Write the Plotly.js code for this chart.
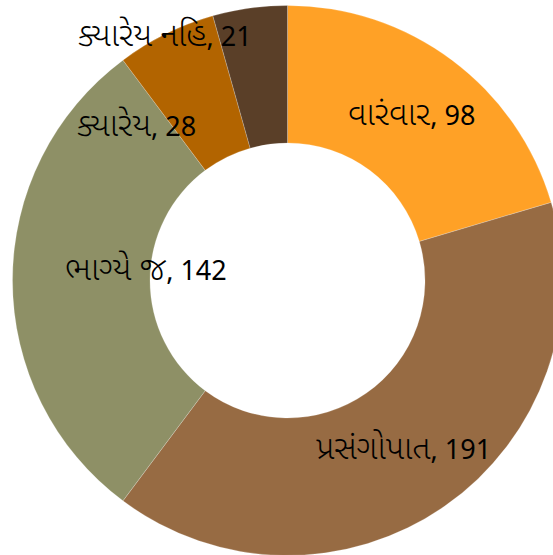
<!DOCTYPE html>
<html>
<head>
<meta charset="utf-8">
<script src="https://cdn.plot.ly/plotly-3.0.1.min.js"></script>
<style>
html,body{margin:0;padding:0;overflow:hidden;background:#fff;width:553px;height:555px;}
#chart{width:575px;height:561px;}
</style>
</head>
<body>
<div id="chart"></div>
<script>
const categories = ["વારંવાર", "પ્રસંગોપાત", "ભાગ્યે જ", "ક્યારેય", "ક્યારેય નહિ"];
const values = [98, 191, 142, 28, 21];
const colors = ["#FFA126", "#976B43", "#8E9066", "#B26400", "#5A3F28"];
// label anchor positions (pixels in the 575x561 plot div)
const labelPx = [[411, 112], [403, 446], [146, 267], [136, 123], [165, 34]];

const W = 575, H = 561;
const trace = {
  type: "pie",
  labels: categories,
  values: values,
  hole: 0.5,
  sort: false,
  direction: "clockwise",
  rotation: 0,
  textinfo: "none",
  hoverinfo: "label+value",
  marker: {colors: colors, line: {color: "rgba(255,255,255,0.35)", width: 0.6}},
  domain: {x: [0.5 - 275 / W, 0.5 + 275 / W], y: [0, 1]},
  showlegend: false
};
const annotations = categories.map((c, i) => ({
  text: '<span style="font-size:33px;font-weight:300">' + c + '</span>, ' + values[i],
  x: labelPx[i][0] / W,
  y: 1 - labelPx[i][1] / H,
  xref: "paper", yref: "paper",
  showarrow: false,
  xanchor: "center", yanchor: "middle",
  font: {family: "'Noto Sans', 'Noto Sans Gujarati', sans-serif", size: 27, color: "#000", weight: 400}
}));
Plotly.newPlot("chart", [trace], {
  width: W, height: H,
  margin: {l: 0, r: 0, t: 0, b: 0, pad: 0},
  paper_bgcolor: "#fff",
  annotations: annotations
}, {displayModeBar: false, staticPlot: true});
</script>
</body>
</html>
